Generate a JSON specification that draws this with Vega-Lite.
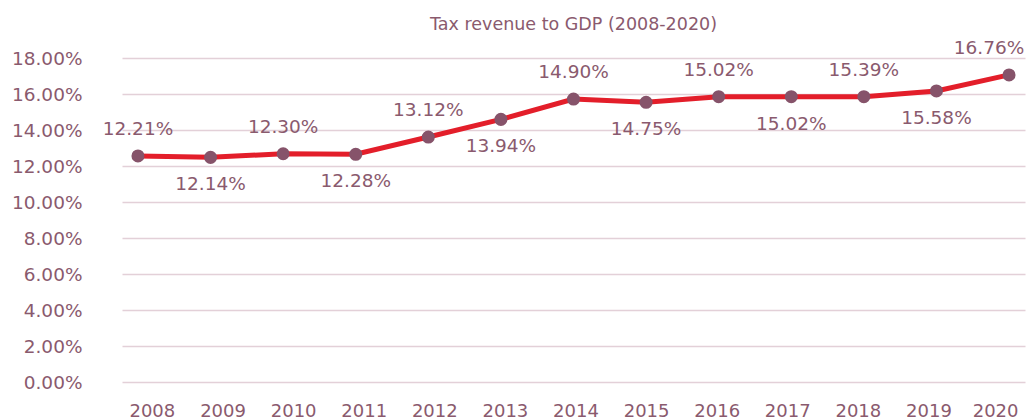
{
  "$schema": "https://vega.github.io/schema/vega-lite/v6.json",
  "autosize": "none",
  "width": 903,
  "height": 324,
  "padding": {"left": 122, "top": 58, "right": 3, "bottom": 38},
  "background": "white",
  "view": {"stroke": null},
  "title": {
    "text": "Tax revenue to GDP (2008-2020)",
    "fontSize": 17.5,
    "fontWeight": "normal",
    "font": "DejaVu Sans",
    "color": "#8a5a6e",
    "anchor": "middle",
    "offset": 5
  },
  "data": {
    "values": [
      {"Year": "2008", "y": 12.56, "label": "12.21%"},
      {"Year": "2009", "y": 12.48, "label": "12.14%"},
      {"Year": "2010", "y": 12.68, "label": "12.30%"},
      {"Year": "2011", "y": 12.65, "label": "12.28%"},
      {"Year": "2012", "y": 13.61, "label": "13.12%"},
      {"Year": "2013", "y": 14.59, "label": "13.94%"},
      {"Year": "2014", "y": 15.72, "label": "14.90%"},
      {"Year": "2015", "y": 15.54, "label": "14.75%"},
      {"Year": "2016", "y": 15.85, "label": "15.02%"},
      {"Year": "2017", "y": 15.85, "label": "15.02%"},
      {"Year": "2018", "y": 15.85, "label": "15.39%"},
      {"Year": "2019", "y": 16.17, "label": "15.58%"},
      {"Year": "2020", "y": 17.06, "label": "16.76%"}
    ]
  },
  "encoding": {
    "x": {
      "field": "Year",
      "type": "ordinal",
      "scale": {"type": "point", "padding": 0.22},
      "axis": {
        "title": null,
        "labelAngle": 0,
        "ticks": false,
        "domain": false,
        "labelPadding": 20,
        "labelFontSize": 18,
        "labelFont": "DejaVu Sans",
        "labelColor": "#8a5a6e",
        "labelFlush": 20,
        "labelFlushOffset": 9,
        "labelOverlap": false,
        "labelOffset": {
          "condition": {"test": "datum.value != '2008' && datum.value != '2020'", "expr": "14 - 2 * (toNumber(datum.value) - 2008)"},
          "value": 0
        }
      }
    },
    "y": {
      "field": "y",
      "type": "quantitative",
      "scale": {"domain": [0, 18], "nice": false},
      "axis": {
        "title": null,
        "values": [0, 2, 4, 6, 8, 10, 12, 14, 16, 18],
        "labelExpr": "format(datum.value, '.2f') + '%'",
        "ticks": false,
        "domain": false,
        "labelPadding": 40,
        "labelFontSize": 18.5,
        "labelFont": "DejaVu Sans",
        "labelColor": "#8a5a6e",
        "gridColor": "#e3d0d8",
        "gridWidth": 1.5
      }
    }
  },
  "layer": [
    {
      "mark": {"type": "line", "color": "#e31e2a", "strokeWidth": 5}
    },
    {
      "mark": {"type": "point", "filled": true, "color": "#86536a", "size": 170, "opacity": 1}
    },
    {
      "transform": [{"filter": {"field": "Year", "oneOf": ["2008", "2010", "2012", "2014", "2016", "2018"]}}],
      "mark": {"type": "text", "dy": -27, "fontSize": 18.5, "font": "DejaVu Sans", "color": "#8a5a6e"},
      "encoding": {"text": {"field": "label"}}
    },
    {
      "transform": [{"filter": {"field": "Year", "oneOf": ["2020"]}}],
      "mark": {"type": "text", "dy": -27, "dx": -20, "fontSize": 18.5, "font": "DejaVu Sans", "color": "#8a5a6e"},
      "encoding": {"text": {"field": "label"}}
    },
    {
      "transform": [{"filter": {"field": "Year", "oneOf": ["2009", "2011", "2013", "2015", "2017", "2019"]}}],
      "mark": {"type": "text", "dy": 27, "fontSize": 18.5, "font": "DejaVu Sans", "color": "#8a5a6e"},
      "encoding": {"text": {"field": "label"}}
    }
  ]
}
